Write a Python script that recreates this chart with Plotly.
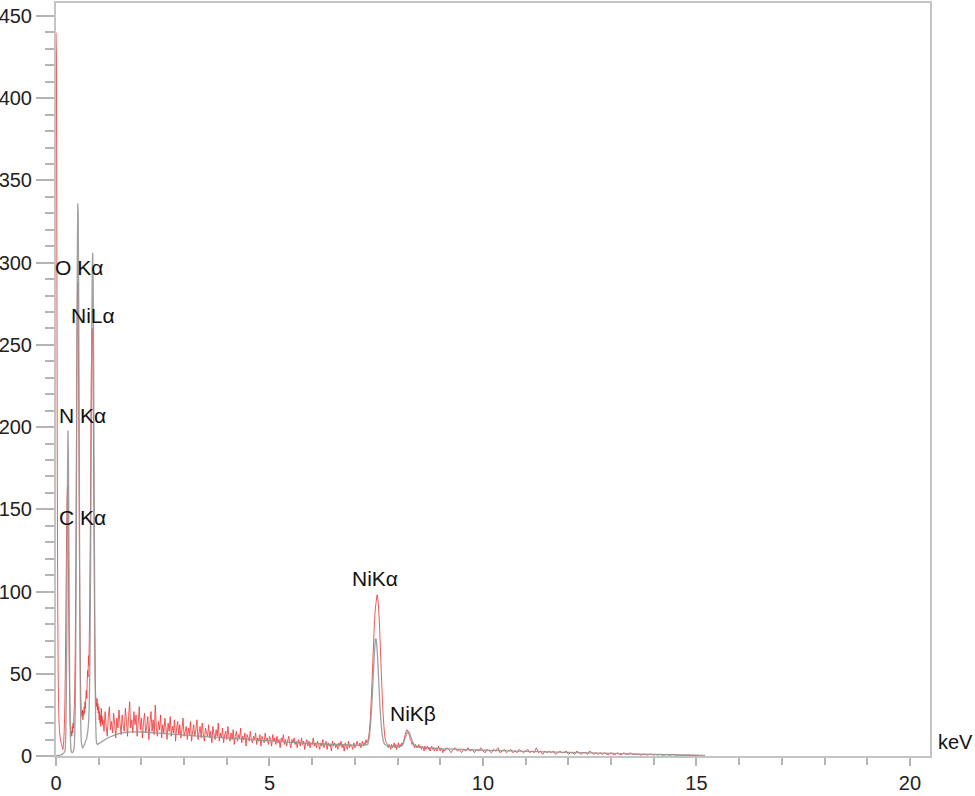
import numpy as np
import plotly.graph_objects as go

# ---------------- data ----------------
# Measured spectrum (red), stored per channel block: (start keV, step keV, counts)
red_a_start, red_a_step = 0.00, 0.01
red_a_counts = [
    440, 425, 310, 175, 95, 52, 32, 22, 16, 13,
    11, 9, 8, 7, 6, 5, 4, 6, 9, 14,
    22, 35, 55, 82, 112, 140, 158, 164, 150, 120,
    85, 55, 33, 22, 16, 13, 15, 12, 18, 14,
    20, 17, 25, 30, 42, 62, 95, 140, 195, 245,
    280, 288, 270, 230, 175, 120, 80, 52, 36, 28,
    26, 24, 28, 22, 27, 25, 30, 26, 33, 29,
    36, 40, 35, 45, 52, 48, 61, 55, 72, 95,
    125, 165, 205, 238, 256, 260, 250, 222, 180, 135,
    92, 62, 44, 36, 33, 30, 35, 28, 32, 26,
    30, 22, 27, 20, 25, 18, 29, 21, 24, 19,
]
red_b_start, red_b_step = 1.10, 0.025
red_b_counts = [
    22, 15, 27, 18, 12, 24, 30, 16, 21, 14, 26, 19, 11, 23, 17, 28, 20, 13, 25, 18,
    15, 29, 21, 12, 24, 33, 17, 22, 14, 27, 19, 25, 12, 20, 30, 16, 23, 11, 21, 26,
    14, 18, 24, 10, 20, 27, 15, 22, 13, 31, 17, 12, 21, 16, 25, 11, 19, 14, 23, 17,
    10, 20, 15, 24, 12, 18, 14, 22, 9, 17, 21, 13, 19, 11, 16, 23, 12, 15, 18, 10,
    17, 13, 21, 9, 15, 19, 12, 16, 22, 10, 14, 18, 11, 20, 13, 9, 17, 14, 12, 19,
    11, 15, 8, 18, 13, 10, 16, 12, 20, 9, 14, 11, 17, 8, 13, 15, 10, 18, 12, 9,
    14, 10, 16, 7, 12, 15, 9, 13, 11, 17, 8, 12, 10, 14, 6, 13, 11, 9, 15, 10,
    8, 12, 10, 14, 7, 11, 9, 13, 6, 12, 10, 8, 14, 9, 11, 7, 12, 10, 6, 13,
    9, 11, 7, 12, 8, 10, 5, 11, 9, 13, 7, 10, 6, 9, 12, 8, 5, 10, 8, 11,
    7, 9, 5, 10, 8, 6, 11, 7, 9, 4, 8, 10, 6, 9, 5, 8, 7, 11, 6, 8,
    5, 9, 7, 4, 8, 6, 10, 5, 7, 9, 4, 8, 6, 7, 3, 9, 6, 8, 5, 7,
    4, 8, 6, 9, 5, 7, 3, 8, 6, 4, 9, 5, 7, 6, 4, 8, 5, 6, 9, 7,
]
red_c_start, red_c_step = 7.10, 0.02
red_c_counts = [
    6, 8, 5, 7, 9, 6, 8, 7, 10, 8,
    9, 11, 15, 22, 32, 44, 57, 70, 82, 90,
    94, 98, 95, 88, 78, 64, 50, 37, 26, 18,
    12, 9, 8, 7, 5, 7, 6, 4, 7, 5,
    6, 8, 5, 7, 4, 6, 8, 5, 7, 6,
    8, 7, 9, 11, 13, 15, 16, 15, 14, 12,
    10, 9, 7, 8, 6, 5, 7, 5, 6, 5,
    7, 5, 6, 4, 6, 5, 3, 6, 4, 5,
    6, 4, 5, 3, 5, 6, 4, 5, 3, 4,
    5, 3, 4, 6, 4, 3, 5, 4, 2, 4,
]
red_d_start, red_d_step = 9.10, 0.05
red_d_counts = [
    3, 5, 4, 2, 4, 5, 3, 4, 2, 4,
    3, 5, 3, 4, 2, 4, 3, 5, 3, 2,
    4, 3, 2, 4, 3, 5, 2, 3, 4, 2,
    3, 4, 2, 3, 2, 4, 3, 2, 3, 4,
    2, 3, 2, 5, 2, 3, 1, 3, 2, 3,
    2, 3, 1, 2, 3, 2, 2, 3, 1, 2,
    2, 1, 3, 2, 1, 2, 2, 1, 3, 2,
    1, 2, 1, 2, 1, 2, 1, 1, 2, 1,
    1, 2, 1, 1, 2, 1, 1, 2, 1, 1,
    1, 1, 0.5, 1, 1, 0.5, 1, 1, 0.5, 1,
    0.5, 1, 0.5, 0.5, 1, 0.5, 0.5, 1, 0.5, 0.5,
    0.5, 0.5, 0.3, 0.5, 0.5, 0.3, 0.5, 0.3, 0.3, 0.2,
]

# Fitted spectrum (gray)
gray_kev = [
    0.00, 0.05, 0.10, 0.15, 0.19, 0.21, 0.22, 0.23, 0.24, 0.25, 0.26, 0.27, 0.28,
    0.29, 0.30, 0.31, 0.32, 0.33, 0.34, 0.35, 0.36, 0.38, 0.40, 0.42, 0.43, 0.44,
    0.45, 0.46, 0.47, 0.48, 0.49, 0.50, 0.51, 0.52, 0.53, 0.54, 0.55, 0.56, 0.57,
    0.58, 0.59, 0.60, 0.62, 0.64, 0.66, 0.68, 0.70, 0.72, 0.74, 0.76, 0.77, 0.78,
    0.79, 0.80, 0.81, 0.82, 0.83, 0.84, 0.85, 0.86, 0.87, 0.88, 0.89, 0.90, 0.91,
    0.92, 0.93, 0.94, 0.95, 0.97, 1.00, 1.05, 1.10, 1.20, 1.30, 1.40, 1.50, 1.60,
    1.70, 1.80, 1.90, 2.00, 2.20, 2.40, 2.60, 2.80, 3.00, 3.50, 4.00, 4.50, 5.00,
    5.50, 6.00, 6.50, 7.00, 7.20, 7.30, 7.32, 7.34, 7.36, 7.38, 7.40, 7.42, 7.44,
    7.46, 7.48, 7.50, 7.52, 7.54, 7.56, 7.58, 7.60, 7.62, 7.64, 7.66, 7.68, 7.70,
    7.80, 7.90, 8.00, 8.10, 8.14, 8.18, 8.22, 8.25, 8.28, 8.32, 8.36, 8.40, 8.50,
    9.00, 10.0, 11.0, 12.0, 13.0, 14.0, 15.0, 15.2,
]
gray_counts = [
    0, 0.3, 0.5, 1, 2, 3, 6, 14, 32, 65, 115, 170, 198,
    185, 140, 88, 46, 21, 9, 4, 2.5, 2, 2.5, 4, 7, 14,
    28, 55, 100, 165, 240, 305, 336, 330, 285, 215, 140, 80, 40,
    19, 10, 7, 5, 5.5, 6.5, 8, 9.5, 11, 14, 19, 24, 32,
    48, 75, 115, 165, 220, 268, 298, 306, 288, 245, 185, 125, 75,
    40, 20, 11, 8, 7, 7.5, 8.3, 9.2, 10.8, 12, 13, 13.7, 14.2,
    14.5, 14.7, 14.7, 14.6, 14.3, 13.9, 13.5, 13.1, 12.7, 11.8, 11, 10.1, 9.2,
    8.3, 7.6, 7, 6.6, 6.5, 7, 9, 12, 17, 24, 33, 43, 54,
    64, 71, 71, 65, 56, 45, 34, 25, 18, 13, 10, 8, 7,
    6, 5.8, 5.8, 6, 8, 11, 14, 15, 14, 11, 8, 6.5, 5.5,
    4.5, 3.5, 2.8, 2.2, 1.6, 1.0, 0.5, 0.3,
]

# Peak labels
label_texts = ["O Kα", "NiLα", "N Kα", "C Kα", "NiKα", "NiKβ"]
label_kev = [0.54, 0.87, 0.63, 0.61, 7.47, 8.37]
label_counts = [297, 268, 207, 145, 108, 26]

x_ticks = [0, 5, 10, 15, 20]
y_ticks = [0, 50, 100, 150, 200, 250, 300, 350, 400, 450]
axis_unit = "keV"

# ---------------- build ----------------
def block(start, step, counts):
    return [start + step * i for i in range(len(counts))], counts

red_x, red_y = [], []
for s, st, c in [(red_a_start, red_a_step, red_a_counts),
                 (red_b_start, red_b_step, red_b_counts),
                 (red_c_start, red_c_step, red_c_counts),
                 (red_d_start, red_d_step, red_d_counts)]:
    bx, by = block(s, st, c)
    red_x += bx
    red_y += by

fig = go.Figure()
fig.add_trace(go.Scatter(x=red_x, y=red_y, mode="lines",
                         line=dict(color="rgba(240,60,60,0.85)", width=1, simplify=False),
                         hoverinfo="skip", showlegend=False))
fig.add_trace(go.Scatter(x=gray_kev, y=gray_counts, mode="lines",
                         line=dict(color="rgba(150,150,150,0.9)", width=1.3, simplify=False),
                         hoverinfo="skip", showlegend=False))

for t, xk, yc in zip(label_texts, label_kev, label_counts):
    fig.add_annotation(x=xk, y=yc, text=t, showarrow=False, xanchor="center", yanchor="middle",
                       font=dict(family="Liberation Sans, Arial", size=21, color="#111111"))

fig.add_annotation(xref="paper", yref="paper", x=1.007, y=0.019, text=axis_unit, showarrow=False,
                   xanchor="left", yanchor="middle",
                   font=dict(family="Liberation Sans, Arial", size=20, color="#111111"))

axis_line = "#c4c4c4"
tick_col = "#b4b4b4"
fig.update_layout(
    width=975, height=796,
    margin=dict(l=56, r=45, t=3, b=40, autoexpand=False),
    paper_bgcolor="white", plot_bgcolor="white",
    font=dict(family="Liberation Sans, Arial", size=20, color="#222222"),
    xaxis=dict(range=[0, 20.47], tickvals=x_ticks, ticks="outside", ticklen=8,
               tickwidth=1.5, tickcolor=tick_col, showgrid=False, zeroline=False,
               showline=True, linecolor=axis_line, linewidth=2, mirror=True,
               automargin=False,
               minor=dict(dtick=1, tick0=0, ticks="outside", ticklen=7, tickwidth=1.5,
                          tickcolor=tick_col, showgrid=False),
               tickfont=dict(size=20, color="#222222")),
    yaxis=dict(range=[0, 457.9], tickvals=y_ticks, ticks="outside", ticklen=18,
               tickwidth=1.5, tickcolor=tick_col, showgrid=False, zeroline=False,
               showline=True, linecolor=axis_line, linewidth=2, mirror=True,
               automargin=False,
               minor=dict(dtick=10, tick0=0, ticks="outside", ticklen=9, tickwidth=1.5,
                          tickcolor=tick_col, showgrid=False),
               tickfont=dict(size=20, color="#222222")),
)

fig.write_html("out.html", config={"displayModeBar": False},
               post_script="document.body.style.margin='0';document.body.style.padding='0';"
                           "document.body.style.overflow='hidden';")
